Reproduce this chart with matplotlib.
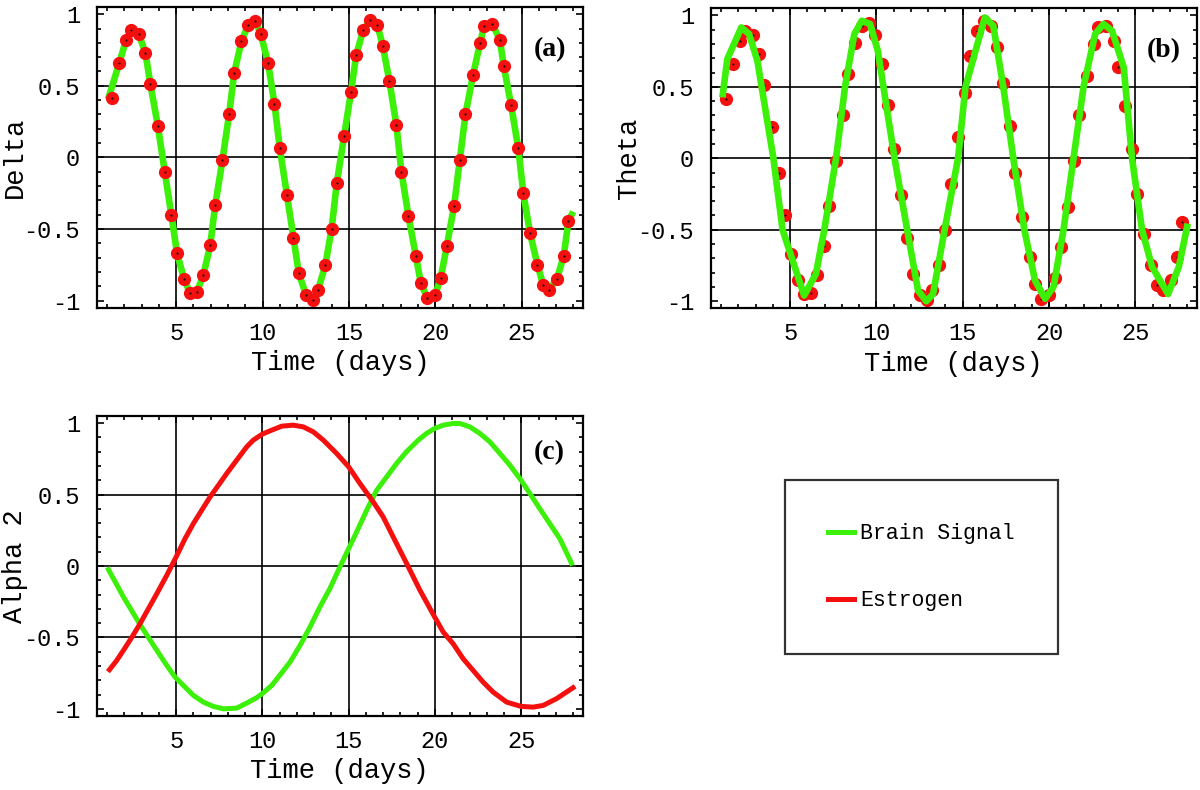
import numpy as np
import matplotlib
matplotlib.use("Agg")
import matplotlib.pyplot as plt
from matplotlib.ticker import MultipleLocator

plt.rcParams['font.family'] = ['Liberation Mono', 'DejaVu Sans Mono']

GREEN = '#3cf00a'
RED = '#f51010'

# measured estrogen samples (red dots, same in panels a and b)
dot_days = [1.29, 1.71, 2.10, 2.41, 2.84, 3.22, 3.51, 3.94, 4.34, 4.72,
            5.05, 5.46, 5.81, 6.20, 6.58, 6.97, 7.26, 7.68, 8.07, 8.36,
            8.78, 9.17, 9.59, 9.90, 10.32, 10.69, 11.00, 11.41, 11.79, 12.10,
            12.52, 12.91, 13.22, 13.64, 14.00, 14.30, 14.72, 15.13, 15.42, 15.84,
            16.23, 16.65, 16.97, 17.35, 17.75, 18.04, 18.45, 18.88, 19.17, 19.55,
            20.00, 20.32, 20.67, 21.09, 21.42, 21.75, 22.19, 22.60, 22.83, 23.31,
            23.74, 23.97, 24.39, 24.81, 25.10, 25.49, 25.92, 26.25, 26.60, 27.04,
            27.44, 27.71]
dot_vals = [0.415, 0.66, 0.82, 0.89, 0.86, 0.73, 0.51, 0.22, -0.10, -0.40,
            -0.67, -0.85, -0.95, -0.94, -0.82, -0.615, -0.335, -0.02, 0.305, 0.59,
            0.81, 0.925, 0.95, 0.86, 0.66, 0.375, 0.065, -0.26, -0.56, -0.81,
            -0.96, -0.995, -0.925, -0.75, -0.50, -0.18, 0.147, 0.46, 0.713, 0.893,
            0.958, 0.926, 0.776, 0.53, 0.227, -0.10, -0.41, -0.69, -0.88, -0.985,
            -0.96, -0.84, -0.62, -0.34, -0.02, 0.30, 0.575, 0.80, 0.916, 0.928,
            0.823, 0.636, 0.366, 0.063, -0.25, -0.53, -0.75, -0.89, -0.925, -0.85,
            -0.69, -0.445]

# delta band brain signal (green, panel a) runs through the samples
delta_days = [1.12] + dot_days[1:] + [27.9]
delta_vals = [0.43] + dot_vals[1:] + [-0.40]

# theta band brain signal (green, panel b)
theta_days = [1.10, 1.36, 2.17, 2.62, 3.10, 3.35, 4.03, 4.56, 5.81, 6.49,
              6.98, 7.66, 8.18, 8.72, 9.15, 9.63, 10.08, 11.05, 11.78, 12.41,
              12.89, 13.28, 13.95, 14.73, 15.16, 16.28, 16.77, 17.35, 17.93, 18.57,
              19.19, 19.77, 20.26, 20.84, 21.42, 22.00, 22.67, 23.16, 23.65, 24.33,
              24.81, 25.39, 25.97, 26.90, 27.52, 28.00]
theta_vals = [0.45, 0.695, 0.916, 0.87, 0.683, 0.5, 0.0, -0.5, -0.96, -0.81,
              -0.5, 0.0, 0.5, 0.87, 0.963, 0.94, 0.753, 0.0, -0.5, -0.925,
              -1.0, -0.95, -0.5, 0.0, 0.5, 0.986, 0.928, 0.5, 0.0, -0.5,
              -0.855, -0.983, -0.90, -0.5, 0.0, 0.5, 0.87, 0.94, 0.893, 0.636,
              0.0, -0.5, -0.76, -0.95, -0.76, -0.48]

# alpha 2 panel
alpha_days = [1.08, 1.95, 2.91, 3.88, 4.46, 4.94, 5.42, 6.00, 6.58, 7.16,
              7.74, 8.51, 9.09, 9.67, 9.99, 10.54, 11.00, 11.60, 12.18, 12.76,
              13.33, 13.91, 14.49, 15.00, 15.46, 16.04, 16.62, 17.20, 17.77, 18.35,
              19.03, 19.51, 19.98, 20.48, 21.05, 21.44, 22.02, 22.60, 23.18, 23.76,
              24.34, 24.99, 25.50, 26.07, 26.65, 27.23, 27.91]
alpha_vals = [-0.025, -0.217, -0.41, -0.59, -0.696, -0.778, -0.836, -0.906, -0.953, -0.983,
              -1.0, -0.995, -0.96, -0.922, -0.894, -0.836, -0.766, -0.673, -0.556, -0.427,
              -0.287, -0.158, -0.007, 0.122, 0.238, 0.39, 0.53, 0.624, 0.717, 0.80,
              0.881, 0.928, 0.963, 0.986, 0.998, 0.998, 0.974, 0.928, 0.869, 0.788,
              0.706, 0.60, 0.507, 0.402, 0.297, 0.192, 0.02]
estro_days = [1.14, 1.56, 1.95, 2.43, 2.91, 3.39, 3.88, 4.46, 5.00, 5.52,
              6.00, 6.48, 6.97, 7.45, 7.93, 8.51, 9.09, 9.47, 9.99, 10.54,
              11.12, 11.79, 12.37, 12.95, 13.53, 14.30, 15.00, 15.65, 16.42, 17.00,
              17.58, 18.36, 19.13, 19.98, 20.48, 21.05, 21.63, 22.21, 22.79, 23.37,
              24.15, 24.99, 25.69, 26.27, 27.04, 28.00]
estro_vals = [-0.726, -0.661, -0.59, -0.50, -0.404, -0.30, -0.194, -0.065, 0.063, 0.192,
              0.297, 0.39, 0.484, 0.565, 0.647, 0.741, 0.834, 0.881, 0.923, 0.951,
              0.979, 0.986, 0.974, 0.939, 0.881, 0.788, 0.694, 0.578, 0.449, 0.343,
              0.203, 0.017, -0.17, -0.357, -0.463, -0.544, -0.649, -0.731, -0.813, -0.883,
              -0.953, -0.983, -0.988, -0.976, -0.929, -0.852]

x_ticks = [5, 10, 15, 20, 25]
y_ticks = [-1, -0.5, 0, 0.5, 1]
y_ticklabels = ['-1', '-0.5', '0', '0.5', '1']


def style_axes(ax, ylabel, tag, tag_y):
    ax.set_xlim(0.4, 28.56)
    ax.set_ylim(-1.05, 1.05)
    ax.set_xticks(x_ticks)
    ax.set_yticks(y_ticks)
    ax.set_yticklabels(y_ticklabels)
    ax.xaxis.set_minor_locator(MultipleLocator(1))
    ax.yaxis.set_minor_locator(MultipleLocator(0.1))
    ax.tick_params(which='both', direction='in', top=True, right=True,
                   width=1.2, labelsize=17)
    ax.tick_params(which='major', length=5)
    ax.tick_params(which='minor', length=3)
    ax.tick_params(axis='x', pad=10)
    ax.tick_params(axis='y', pad=12)
    for x in x_ticks:
        ax.axvline(x, color='black', lw=1.2, zorder=1)
    for y in [-0.5, 0, 0.5]:
        ax.axhline(y, color='black', lw=1.2, zorder=1)
    for sp in ax.spines.values():
        sp.set_linewidth(1.6)
    ax.set_xlabel('Time (days)', fontsize=19.5, labelpad=4)
    ax.set_ylabel(ylabel, fontsize=19.5)
    ax.yaxis.set_label_coords(-0.142, 0.5)
    ax.text(0.932, tag_y, tag, transform=ax.transAxes, ha='center', va='center',
            fontsize=20, fontweight='bold', family='Liberation Serif')


fig = plt.figure(figsize=(12, 7.9), dpi=100)
ax_a = fig.add_axes([0.0806, 0.6105, 0.4053, 0.3806])
ax_b = fig.add_axes([0.5923, 0.6097, 0.4050, 0.3798])
ax_c = fig.add_axes([0.0806, 0.0937, 0.4050, 0.3797])

# (a) delta
ax_a.plot(delta_days, delta_vals, color=GREEN, lw=4.8, zorder=2)
ax_a.plot(dot_days, dot_vals, 'o', color=RED, ms=8.5, zorder=3)
ax_a.plot(dot_days, dot_vals, '.', color='black', ms=1, zorder=4)
style_axes(ax_a, 'Delta', '(a)', 0.858)

# (b) theta
ax_b.plot(dot_days, dot_vals, 'o', color=RED, ms=8.5, zorder=2)
ax_b.plot(dot_days, dot_vals, '.', color='black', ms=1, zorder=2)
ax_b.plot(theta_days, theta_vals, color=GREEN, lw=4.8, zorder=3)
style_axes(ax_b, 'Theta', '(b)', 0.858)

# (c) alpha 2
l1, = ax_c.plot(alpha_days, alpha_vals, color=GREEN, lw=3.6, zorder=2)
l2, = ax_c.plot(estro_days, estro_vals, color=RED, lw=3.6, zorder=2)
style_axes(ax_c, 'Alpha 2', '(c)', 0.879)

leg = fig.legend([l1, l2], ['Brain Signal', 'Estrogen'], loc='upper left',
                 bbox_to_anchor=(785 / 1200, 1 - 480 / 790), borderaxespad=0,
                 fontsize=15.5, frameon=True, fancybox=False, edgecolor='black',
                 handlelength=1.2, handletextpad=0.3, labelspacing=2.15,
                 borderpad=2.0)
leg.get_frame().set_linewidth(1.6)

fig.savefig('out.png', dpi=100)
